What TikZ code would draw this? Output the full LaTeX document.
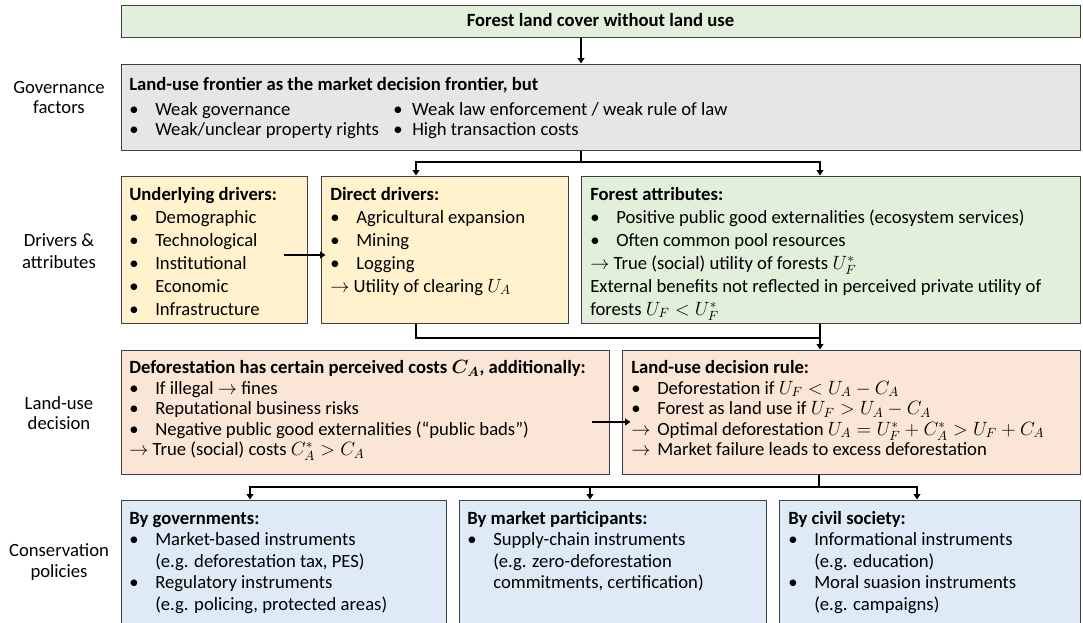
\documentclass[tikz,border=0pt]{standalone}
\usepackage{amsmath}
\usepackage{fontspec}
\setmainfont{Carlito}
\usepackage{tikz}
\usetikzlibrary{arrows.meta,fit,calc}

\definecolor{boxgreen}{HTML}{E2EFDA}
\definecolor{boxgrey}{HTML}{E7E6E6}
\definecolor{boxyellow}{HTML}{FFF2CC}
\definecolor{boxrose}{HTML}{FBE5D6}
\definecolor{boxblue}{HTML}{DEEBF7}
\definecolor{edgegrey}{HTML}{404040}

% bullet and arrow items with hanging indent
\newcommand{\itm}[1][19.5pt]{\makebox[#1][l]{\textbullet}}
\newcommand{\arrI}{\makebox[19.5pt][l]{$\rightarrow$}}
\newcommand{\sub}{\hspace*{19.5pt}}

\tikzset{
  box/.style={draw=edgegrey, line width=0.75pt, inner sep=0pt},
  boxtxt/.style={anchor=base west, inner sep=0pt, font=\fontsize{14}{#1}\selectfont},
  side/.style={align=center, inner sep=0pt, font=\fontsize{14}{#1}\selectfont},
  link/.style={line width=2pt, black},
  conn/.style={link, -{Triangle[length=4pt,width=5pt]}},
}

\begin{document}
\begin{tikzpicture}[x=0.75pt,y=-0.75pt]
  \useasboundingbox (0,0) rectangle (1083,622);
  \clip (0,0) rectangle (1083,622);

  % boxes
  \node[box, fill=boxgreen, fit={(121,5) (1080,37)}] (top) {};
  \node[box, fill=boxgrey, fit={(121,64) (1080,150)}] (gov) {};
  \node[box, fill=boxyellow, fit={(121,176) (307,323)}] (under) {};
  \node[box, fill=boxyellow, fit={(321,176) (568,323)}] (direct) {};
  \node[box, fill=boxgreen, fit={(581,176) (1080,323)}] (forattr) {};
  \node[box, fill=boxrose, fit={(121,350) (609,474)}] (costs) {};
  \node[box, fill=boxrose, fit={(622,350) (1080,474)}] (rule) {};
  \node[box, fill=boxblue, fit={(121,500) (446,630)}] (govpol) {};
  \node[box, fill=boxblue, fit={(459,500) (766,630)}] (mktpol) {};
  \node[box, fill=boxblue, fit={(779,500) (1080,630)}] (civpol) {};

  % row labels
  \node[side=15] (lblgov) at (59,98) {Governance\\factors};
  \node[side=16.5] (lbldrv) at (59,251) {Drivers \&\\attributes};
  \node[side=15] (lbllu) at (59,413) {Land-use\\decision};
  \node[side=15.75] (lblpol) at (59,562) {Conservation\\policies};

  % box texts
  \node[anchor=base, inner sep=0pt, font=\bfseries\fontsize{14}{15}\selectfont] (topT) at (600.5,26.5) {Forest land cover without land use};
  \node[boxtxt=15] (govT) at (129,90.5) {\begin{tabular}[t]{@{}l@{}}
    \textbf{Land-use frontier as the market decision frontier, but}\\[3.75pt]
    \makebox[198pt][l]{\itm Weak governance}\itm[14.25pt]Weak law enforcement / weak rule of law\\
    \makebox[198pt][l]{\itm Weak/unclear property rights}\itm[14.25pt]High transaction costs
  \end{tabular}};
  \node[boxtxt=17.25] (underT) at (129,200) {\begin{tabular}[t]{@{}l@{}}
    \textbf{Underlying drivers:}\\
    \itm Demographic\\
    \itm Technological\\
    \itm Institutional\\
    \itm Economic\\
    \itm Infrastructure
  \end{tabular}};
  \node[boxtxt=17.25] (directT) at (330,200) {\begin{tabular}[t]{@{}l@{}}
    \textbf{Direct drivers:}\\
    \itm Agricultural expansion\\
    \itm Mining\\
    \itm Logging\\
    $\rightarrow$ Utility of clearing $U_A$
  \end{tabular}};
  \node[boxtxt=17.25] (forattrT) at (590,200) {\begin{tabular}[t]{@{}l@{}}
    \textbf{Forest attributes:}\\
    \itm Positive public good externalities (ecosystem services)\\
    \itm Often common pool resources\\
    $\rightarrow$ True (social) utility of forests $U_F^*$\\
    External benefits not reflected in perceived private utility of\\
    forests $U_F < U_F^*$
  \end{tabular}};
  \node[boxtxt=15.4] (costsT) at (129,373.5) {\begin{tabular}[t]{@{}l@{}}
    \textbf{Deforestation has certain perceived costs $\boldsymbol{C_A}$, additionally:}\\
    \itm If illegal $\rightarrow$ fines\\
    \itm Reputational business risks\\
    \itm Negative public good externalities (“public bads”)\\
    $\rightarrow$ True (social) costs $C_A^* > C_A$
  \end{tabular}};
  \node[boxtxt=15.4] (ruleT) at (631,373.5) {\begin{tabular}[t]{@{}l@{}}
    \textbf{Land-use decision rule:}\\
    \itm Deforestation if $U_F < U_A - C_A$\\
    \itm Forest as land use if $U_F > U_A - C_A$\\
    \arrI Optimal deforestation $U_A = U_F^* + C_A^* > U_F + C_A$\\
    \arrI Market failure leads to excess deforestation
  \end{tabular}};
  \node[boxtxt=16.1] (govpolT) at (129,524.5) {\begin{tabular}[t]{@{}l@{}}
    \textbf{By governments:}\\
    \itm Market-based instruments\\
    \sub(e.g. deforestation tax, PES)\\
    \itm Regulatory instruments\\
    \sub(e.g. policing, protected areas)
  \end{tabular}};
  \node[boxtxt=16.1] (mktpolT) at (467,524.5) {\begin{tabular}[t]{@{}l@{}}
    \textbf{By market participants:}\\
    \itm Supply-chain instruments\\
    \sub(e.g. zero-deforestation\\
    \sub commitments, certification)
  \end{tabular}};
  \node[boxtxt=16.1] (civpolT) at (788,524.5) {\begin{tabular}[t]{@{}l@{}}
    \textbf{By civil society:}\\
    \itm Informational instruments\\
    \sub(e.g. education)\\
    \itm Moral suasion instruments\\
    \sub(e.g. campaigns)
  \end{tabular}};

  % connectors
  \coordinate (busA) at (581,162);
  \coordinate (busB) at (820,338);
  \coordinate (busC) at (819,487);
  \coordinate (dropD) at (416,0);
  \coordinate (dropF) at (820,0);
  \coordinate (dropG) at (250,0);
  \coordinate (dropM) at (590,0);
  \coordinate (dropC) at (917,0);
  \coordinate (uStart) at (284,255);
  \coordinate (cStart) at (592,422);

  \draw[conn] (top.south -| busA) -- (gov.north -| busA);
  \draw[link] (gov.south -| busA) -- (busA);
  \draw[conn] (busA) -| (dropD |- direct.north);
  \draw[conn] (busA) -| (dropF |- forattr.north);
  \draw[conn] (uStart) -- ([xshift=3.75pt]uStart -| direct.west);
  \draw[link] (dropD |- direct.south) |- (busB);
  \draw[conn] (forattr.south -| busB) -- (rule.north -| busB);
  \draw[conn] (cStart) -- ([xshift=6.75pt]cStart -| rule.west);
  \draw[link] (rule.south -| busC) -- (busC);
  \draw[conn] (busC) -| (dropG |- govpol.north);
  \draw[conn] (busC) -| (dropM |- mktpol.north);
  \draw[conn] (busC) -| (dropC |- civpol.north);
\end{tikzpicture}
\end{document}
